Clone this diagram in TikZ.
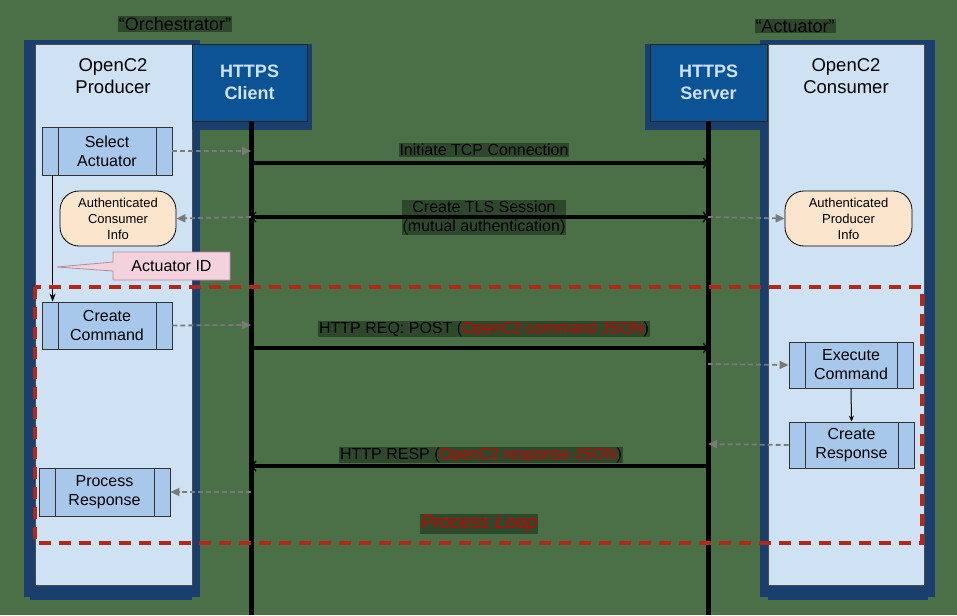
\documentclass[tikz,border=0pt]{standalone}
\usepackage{fontspec}
\setmainfont{Liberation Sans}
\usetikzlibrary{arrows.meta,shapes.callouts,shapes.misc}
\definecolor{bggreen}{HTML}{4B6F47}
\definecolor{lblbg}{HTML}{2E482C}
\definecolor{paneldark}{HTML}{1A3F6C}
\definecolor{panelfill}{HTML}{CFE2F3}
\definecolor{httpsfill}{HTML}{0B5394}
\definecolor{procfill}{HTML}{A7C8EA}
\definecolor{infofill}{HTML}{FCE5CD}
\definecolor{calloutfill}{HTML}{F3D2DE}
\definecolor{calloutdraw}{HTML}{B48A9C}
\definecolor{loopred}{HTML}{B3261A}
\definecolor{txtred}{HTML}{CC0000}
\definecolor{dashgray}{HTML}{7A7A7A}
\tikzset{
  procbox/.style={draw=black!80, line width=0.8pt, fill=procfill, align=center,
    font=\fontsize{16}{19}\selectfont, inner sep=0pt,
    path picture={
      \draw[black!80,line width=0.8pt] ([xshift=16pt]path picture bounding box.north west) -- ([xshift=16pt]path picture bounding box.south west);
      \draw[black!80,line width=0.8pt] ([xshift=-16pt]path picture bounding box.north east) -- ([xshift=-16pt]path picture bounding box.south east);}},
  infobox/.style={draw=black, line width=0.8pt, fill=infofill, rounded corners=19pt,
    align=center, font=\fontsize{13}{16}\selectfont, inner sep=0pt},
  httpsbox/.style={draw=black!85, line width=0.8pt, fill=httpsfill, text=panelfill,
    align=center, font=\fontsize{18}{22}\selectfont\bfseries, inner sep=0pt},
  title/.style={align=center, font=\fontsize{18.5}{21.5}\selectfont, text=black},
  toplbl/.style={fill=lblbg, text=black, font=\fontsize{18}{20}\selectfont, inner sep=1pt},
  msglbl/.style={fill=lblbg, text=black, align=center, font=\fontsize{16}{19}\selectfont, inner sep=1pt},
  msg/.style={line width=4pt, black, -{Straight Barb[length=4pt,width=10pt,line width=1.3pt]}},
  msgboth/.style={line width=4pt, black, {Straight Barb[length=4pt,width=10pt,line width=1.3pt]}-{Straight Barb[length=4pt,width=10pt,line width=1.3pt]}},
  lifeline/.style={line width=5pt, black},
  dasharrow/.style={dashgray, line width=1.8pt, dash pattern=on 5pt off 3pt,
    -{Triangle[length=9pt,width=8pt]}},
  looprect/.style={loopred, line width=3.2pt, dash pattern=on 12pt off 8pt},
}
\begin{document}
\begin{tikzpicture}[x=1pt,y=-1pt]
\fill[bggreen] (0,0) rectangle (957,615);
\useasboundingbox (0,0) rectangle (957,615);

% top labels
\node[toplbl] (orch) at (175,24) {“Orchestrator”};
\node[toplbl] (act) at (795,26) {“Actuator”};

% panels (containers)
\fill[paneldark] (24,40) rectangle (200,597);
\fill[paneldark] (30,590) rectangle (192,600);
\filldraw[fill=panelfill, draw=black!70, line width=0.6pt] (35,44) rectangle (192,585);
\fill[paneldark] (760,40) rectangle (935,597);
\fill[paneldark] (768,590) rectangle (928,600);
\filldraw[fill=panelfill, draw=black!70, line width=0.6pt] (768,44) rectangle (924,585);

% shadows of https boxes
\fill[paneldark] (192,44) rectangle (312,130);
\fill[paneldark] (645,44) rectangle (767,130);

% https boxes
\node[httpsbox, minimum width=115pt, minimum height=77pt] (client) at (249.5,82.5) {HTTPS\\Client};
\node[httpsbox, minimum width=117pt, minimum height=77pt] (server) at (708.5,82.5) {HTTPS\\Server};

% titles
\node[title] (prodt) at (113,76) {OpenC2\\Producer};
\node[title] (const) at (846,76) {OpenC2\\Consumer};

% lifelines
\coordinate (cltop) at (251,121);
\coordinate (clbot) at (251,615);
\coordinate (svtop) at (708,121);
\coordinate (svbot) at (708,615);
\draw[lifeline] (cltop) -- (clbot);
\draw[lifeline] (svtop) -- (svbot);

% lifeline points
\coordinate (c1) at (251,151);
\coordinate (c2) at (251,163);
\coordinate (s2) at (708,163);
\coordinate (c3) at (251,217);
\coordinate (s3) at (708,217);
\coordinate (c4) at (251,325);
\coordinate (c5) at (251,348);
\coordinate (s5) at (708,348);
\coordinate (s6) at (708,364);
\coordinate (s7) at (708,444);
\coordinate (s8) at (708,466);
\coordinate (c8) at (251,466);
\coordinate (c9) at (251,492);

% producer boxes
\node[procbox, minimum width=130pt, minimum height=48pt] (sel) at (107,151) {Select\\Actuator};
\node[infobox, minimum width=116pt, minimum height=55pt] (aci) at (118,218.5) {Authenticated\\Consumer\\Info};
\node[procbox, minimum width=130pt, minimum height=47pt] (cc) at (107,325.5) {Create\\Command};
\node[procbox, minimum width=131pt, minimum height=48pt] (pr) at (104.5,492) {Process\\Response};

% consumer boxes
\node[infobox, minimum width=127pt, minimum height=55pt] (api) at (848.5,218.5) {Authenticated\\Producer\\Info};
\node[procbox, minimum width=124pt, minimum height=46pt] (ex) at (851,365) {Execute\\Command};
\node[procbox, minimum width=125pt, minimum height=46pt] (crr) at (851.5,445) {Create\\Response};

% callout
\node[rectangle callout, draw=calloutdraw, line width=0.8pt, fill=calloutfill,
  minimum width=117pt, minimum height=28pt, inner sep=0pt,
  callout absolute pointer={(57,267)}, callout pointer width=9pt,
  font=\fontsize{16}{19}\selectfont] (aid) at (171.5,266) {Actuator ID};

% vertical arrows
\draw[line width=1.3pt, -{Stealth[length=8pt,width=6pt]}] ([xshift=11pt]sel.south west) -- ([xshift=11pt]cc.north west);
\draw[line width=1pt, -{Stealth[length=6pt,width=5pt]}] (ex.south) -- (crr.north);

% loop rectangle
\draw[looprect] (35,287) rectangle (922,543);
\node[text=txtred, font=\fontsize{19}{22}\selectfont\itshape, fill=lblbg, inner sep=1pt] (loop) at (479,524) {Process Loop};

% messages
\node[msglbl] (l1) at (484,150) {Initiate TCP Connection};
\draw[msg] (c2) -- (s2);
\node[msglbl] (l2) at (484,217.5) {Create TLS Session\\(mutual authentication)};
\draw[msgboth] (c3) -- (s3);
\node[msglbl] (l3) at (484,329) {HTTP REQ: POST (\textcolor{txtred}{OpenC2 command JSON})};
\draw[msg] (c5) -- (s5);
\node[msglbl] (l4) at (481,455) {HTTP RESP (\textcolor{txtred}{OpenC2 response JSON})};
\draw[msg] (s8) -- (c8);

% dashed arrows
\draw[dasharrow] (sel.east) -- (c1);
\draw[dasharrow] (c3) -- (aci.east);
\draw[dasharrow] (s3) -- (api.west);
\draw[dasharrow] (cc.east) -- (c4);
\draw[dasharrow] (s6) -- (ex.west);
\draw[dasharrow] (crr.west) -- (s7);
\draw[dasharrow] (c9) -- (pr.east);
\end{tikzpicture}
\end{document}
